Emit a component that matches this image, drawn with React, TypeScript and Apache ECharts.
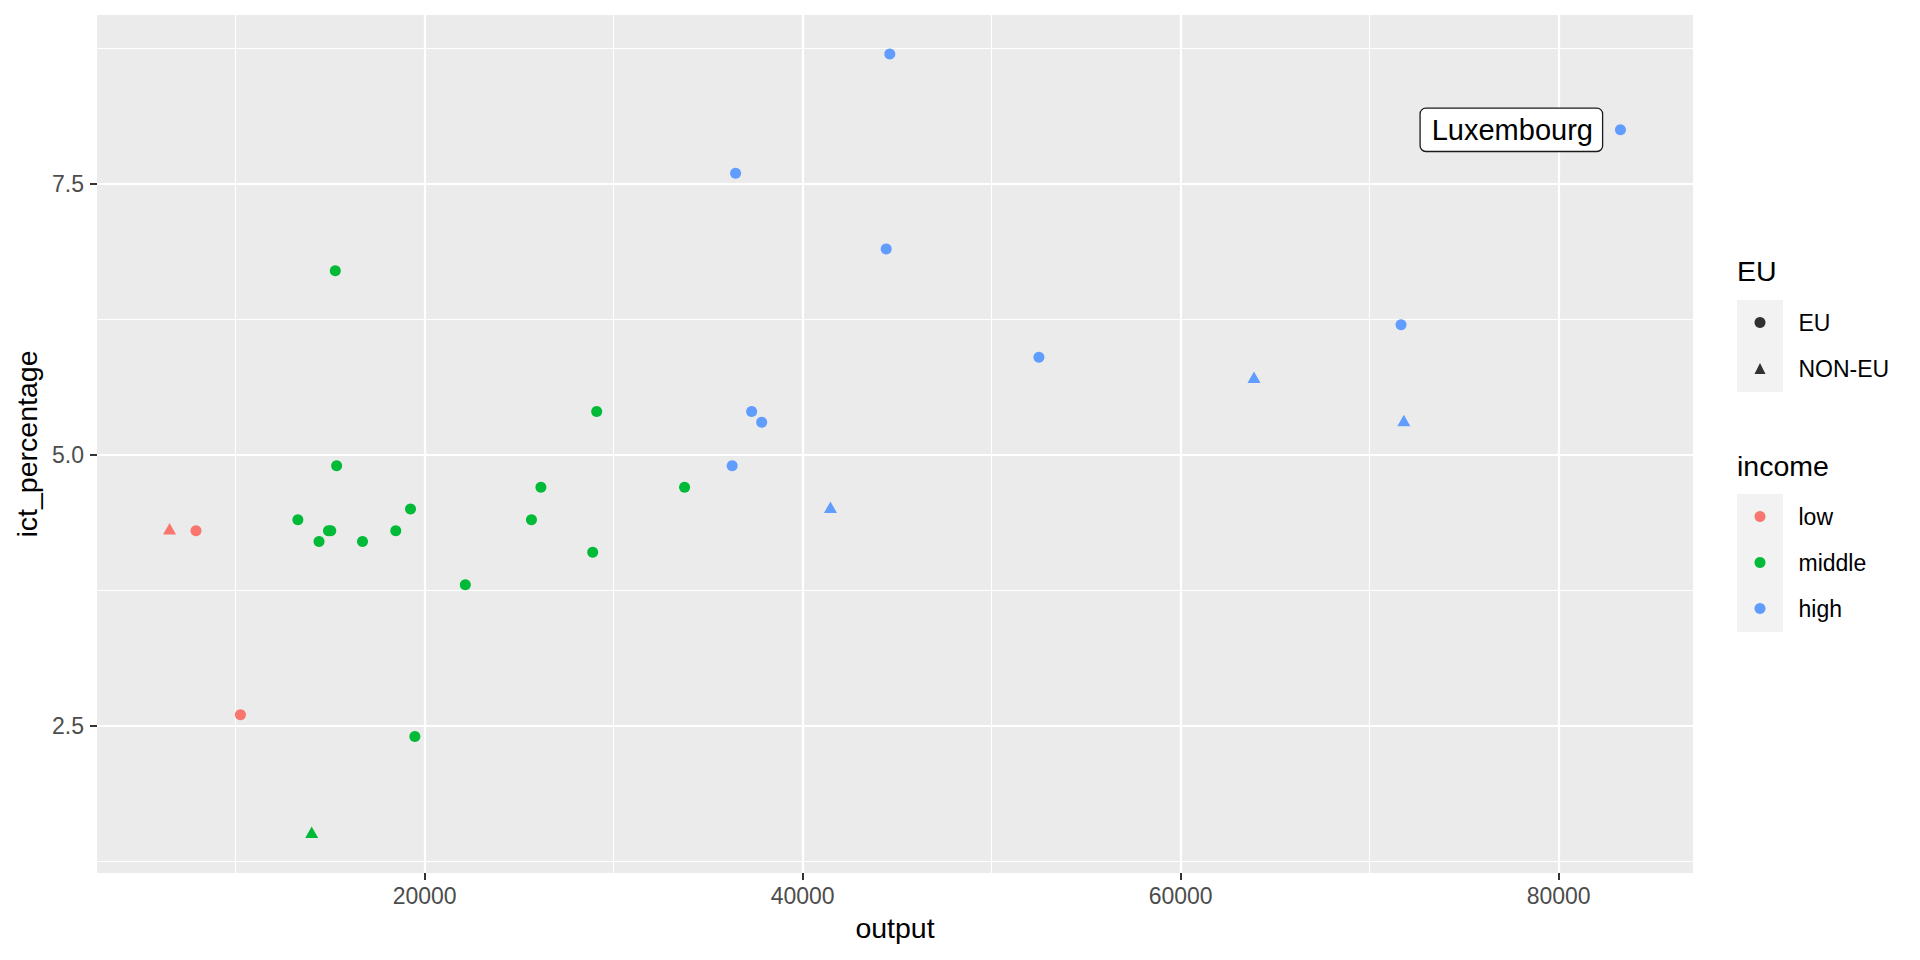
import React, { useEffect, useRef } from "react";
import * as echarts from "echarts";

// ---- data ----
const output = [
  6500, 7900, 10250, 13290, 14410, 14910, 15030, 15340, 15270, 16710, 18470, 19250, 19480, 14020,
  22150, 25650, 26150, 28890, 29100, 33750, 36270, 36450, 37300, 37830, 41470, 44610, 44420, 52500,
  63880, 71660, 71810, 83270,
];
const ictPercentage = [
  4.3, 4.3, 2.6, 4.4, 4.2, 4.3, 4.3, 4.9, 6.7, 4.2, 4.3, 4.5, 2.4, 1.5,
  3.8, 4.4, 4.7, 4.1, 5.4, 4.7, 4.9, 7.6, 5.4, 5.3, 4.5, 8.7, 6.9, 5.9,
  5.7, 6.2, 5.3, 8.0,
];
const income = [
  "low", "low", "low", "middle", "middle", "middle", "middle", "middle", "middle", "middle", "middle", "middle", "middle", "middle",
  "middle", "middle", "middle", "middle", "middle", "middle", "high", "high", "high", "high", "high", "high", "high", "high",
  "high", "high", "high", "high",
];
const membership = [
  "NON-EU", "EU", "EU", "EU", "EU", "EU", "EU", "EU", "EU", "EU", "EU", "EU", "EU", "NON-EU",
  "EU", "EU", "EU", "EU", "EU", "EU", "EU", "EU", "EU", "EU", "NON-EU", "EU", "EU", "EU",
  "NON-EU", "EU", "NON-EU", "EU",
];
const countryLabel = [
  "", "", "", "", "", "", "", "", "", "", "", "", "", "",
  "", "", "", "", "", "", "", "", "", "", "", "", "", "",
  "", "", "", "Luxembourg",
];
const incomeLevels = ["low", "middle", "high"];
const incomeColors = ["#F8766D", "#00BA38", "#619CFF"];
const euLevels = ["EU", "NON-EU"];
const xTicks = [20000, 40000, 60000, 80000];
const xMinor = [10000, 30000, 50000, 70000];
const yTicks = [2.5, 5.0, 7.5];
const yMinor = [1.25, 3.75, 6.25, 8.75];

const FONT = "'Liberation Sans', Arial, Helvetica, sans-serif";

function expand(vals: number[]) {
  const mn = Math.min(...vals);
  const mx = Math.max(...vals);
  const r = mx - mn;
  return [mn - 0.05 * r, mx + 0.05 * r];
}

export default function App() {
  const ref = useRef<HTMLDivElement>(null);

  useEffect(() => {
    document.body.style.margin = "0";
    if (!ref.current) return;
    const chart = echarts.init(ref.current, null, { renderer: "svg" });

    const [xMin, xMax] = expand(output);
    const [yMin, yMax] = expand(ictPercentage);

    const incomeSeries = incomeLevels.map((lvl, li) => {
      const data: any[] = [];
      output.forEach((x, i) => {
        if (income[i] !== lvl) return;
        const tri = membership[i] === "NON-EU";
        const item: any = {
          value: [x, ictPercentage[i]],
          symbol: tri ? "triangle" : "circle",
          symbolSize: tri ? [13, 11.5] : 11,
          symbolOffset: tri ? [0, -1.8] : [0, 0],
        };
        if (countryLabel[i]) {
          item.label = {
            show: true,
            position: "left",
            distance: 13,
            formatter: countryLabel[i],
            backgroundColor: "#ffffff",
            borderColor: "#1a1a1a",
            borderWidth: 1.3,
            borderRadius: 5,
            padding: [6, 9, 6, 11],
            fontSize: 29,
            lineHeight: 30,
            color: "#000000",
            fontFamily: FONT,
          };
        }
        data.push(item);
      });
      return {
        type: "scatter",
        name: lvl,
        z: 3,
        data,
        itemStyle: { color: incomeColors[li], opacity: 1 },
        emphasis: { disabled: true },
      };
    });

    const gridLineSeries = {
      type: "scatter",
      name: "__grid",
      z: 1,
      data: [],
      silent: true,
      markLine: {
        z: 1,
        silent: true,
        animation: false,
        symbol: ["none", "none"],
        label: { show: false },
        emphasis: { disabled: true },
        data: [
          ...xMinor.map((v) => ({ xAxis: v, lineStyle: { color: "#ffffff", width: 1.1, type: "solid" } })),
          ...xTicks.map((v) => ({ xAxis: v, lineStyle: { color: "#ffffff", width: 2.2, type: "solid" } })),
          ...yMinor.map((v) => ({ yAxis: v, lineStyle: { color: "#ffffff", width: 1.1, type: "solid" } })),
          ...yTicks.map((v) => ({ yAxis: v, lineStyle: { color: "#ffffff", width: 2.2, type: "solid" } })),
        ],
      },
    };

    const euSeries = euLevels.map((lvl) => ({
      type: "scatter",
      name: lvl,
      data: [],
      itemStyle: { color: "#000000" },
    }));

    const legendText = { fontSize: 23, color: "#000000", fontFamily: FONT, lineHeight: 23, padding: [0, 0, 0, 28] };

    const option: any = {
      animation: false,
      backgroundColor: "#ffffff",
      textStyle: { fontFamily: FONT },
      grid: {
        left: 97,
        top: 15,
        right: 227,
        bottom: 87,
        show: true,
        backgroundColor: "#EBEBEB",
        borderWidth: 0,
      },
      xAxis: {
        type: "value",
        min: xMin,
        max: xMax,
        name: "output",
        nameLocation: "middle",
        nameGap: 40,
        nameTextStyle: { fontSize: 28.5, color: "#000000", fontFamily: FONT },
        axisLine: { show: false },
        splitLine: { show: false },
        axisTick: { show: true, length: 7, lineStyle: { color: "#333333", width: 2 }, customValues: xTicks },
        axisLabel: {
          customValues: xTicks,
          fontSize: 23,
          color: "#4D4D4D",
          margin: 11,
          fontFamily: FONT,
          formatter: (v: number) => String(v),
        },
      },
      yAxis: {
        type: "value",
        min: yMin,
        max: yMax,
        name: "ict_percentage",
        nameLocation: "middle",
        nameGap: 56,
        nameTextStyle: { fontSize: 28.5, color: "#000000", fontFamily: FONT },
        axisLine: { show: false },
        splitLine: { show: false },
        axisTick: { show: true, length: 7, lineStyle: { color: "#333333", width: 2 }, customValues: yTicks },
        axisLabel: {
          customValues: yTicks,
          fontSize: 23,
          color: "#4D4D4D",
          margin: 13,
          fontFamily: FONT,
          formatter: (v: number) => v.toFixed(1),
        },
      },
      legend: [
        {
          orient: "vertical",
          left: 1749.5,
          top: 306,
          itemWidth: 11,
          itemHeight: 11,
          itemGap: 23,
          selectedMode: false,
          textStyle: legendText,
          data: [
            { name: "EU", icon: "circle" },
            { name: "NON-EU", icon: "triangle" },
          ],
        },
        {
          orient: "vertical",
          left: 1749.5,
          top: 500,
          itemWidth: 11,
          itemHeight: 11,
          itemGap: 23,
          selectedMode: false,
          textStyle: legendText,
          data: incomeLevels.map((n) => ({ name: n, icon: "circle" })),
        },
      ],
      graphic: [
        { type: "rect", z: 0, shape: { x: 1737, y: 300, width: 46, height: 92 }, style: { fill: "#F2F2F2" }, silent: true },
        { type: "rect", z: 0, shape: { x: 1737, y: 494, width: 46, height: 138 }, style: { fill: "#F2F2F2" }, silent: true },
        {
          type: "text",
          x: 1737,
          y: 271,
          style: { text: "EU", fontSize: 28.5, fill: "#000000", fontFamily: FONT, verticalAlign: "middle", align: "left" },
          silent: true,
        },
        {
          type: "text",
          x: 1737,
          y: 466,
          style: { text: "income", fontSize: 28.5, fill: "#000000", fontFamily: FONT, verticalAlign: "middle", align: "left" },
          silent: true,
        },
      ],
      series: [gridLineSeries, ...incomeSeries, ...euSeries],
    };

    chart.setOption(option);
    return () => chart.dispose();
  }, []);

  return <div ref={ref} style={{ width: 1920, height: 960 }} />;
}
